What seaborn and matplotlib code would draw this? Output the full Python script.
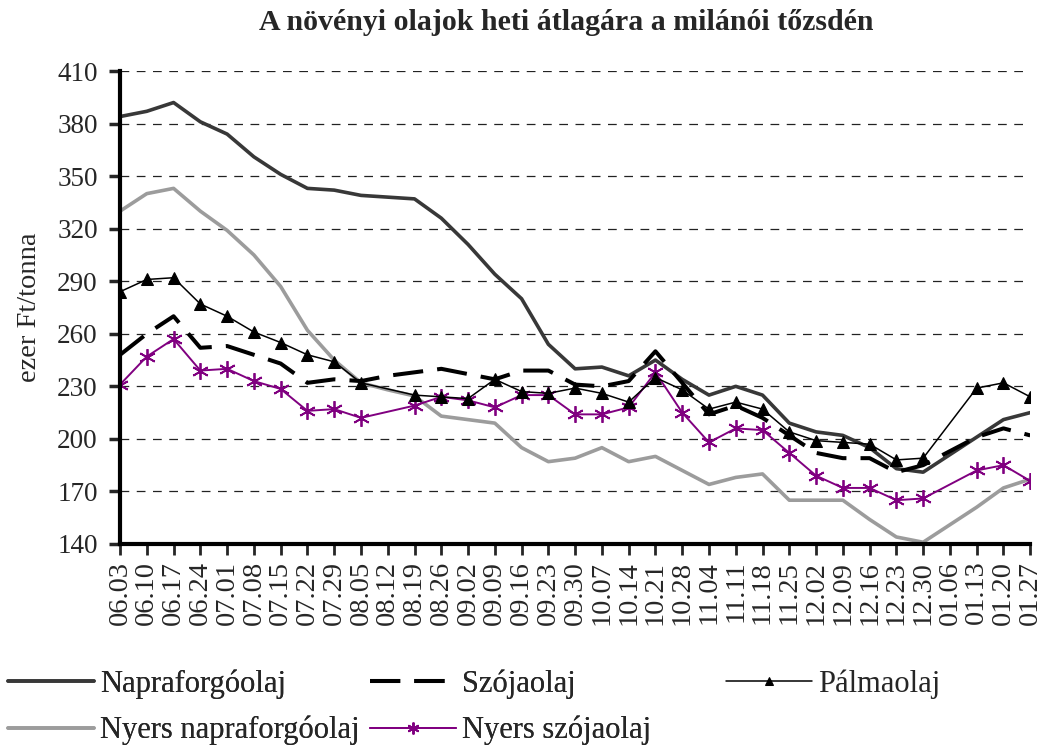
import numpy as np
import pandas as pd
import matplotlib.pyplot as plt
import seaborn as sns

nan = np.nan

dates = ["06.03", "06.10", "06.17", "06.24", "07.01", "07.08", "07.15", "07.22",
         "07.29", "08.05", "08.12", "08.19", "08.26", "09.02", "09.09", "09.16",
         "09.23", "09.30", "10.07", "10.14", "10.21", "10.28", "11.04", "11.11",
         "11.18", "11.25", "12.02", "12.09", "12.16", "12.23", "12.30", "01.06",
         "01.13", "01.20", "01.27"]

napraforgo = [384, 387, 392, 381, 374, 361, 351, 343, 342, 339, 338, 337, 326, 311,
              294, 280, 254, 240, 241, 236, 245, 234, 225, 230, 225, 209, 204, 202,
              195, 183, 181, nan, 201, 211, 215]
nyers_napraforgo = [330, 340, 343, 330, 319, 305, 287, 262, 245, 232, 228, 224.5, 213,
                    211, 209, 195, 187, 189, 195, 187, 190, 182, 174, 178, 180, 165,
                    165, 165, 154, 144, 141, nan, 161, 172, 177]
palma = [284, 291, 292, 277, 270, 261, 255, 248, 244, 232, nan, 225, 224, 223, 234,
         227, 226, 229, 226, 221, 235, 228, 217, 221, 217, 204, 199, 198, 197, 188,
         189, nan, 229, 232, 224]
szoja = [248, 260, 270, 252, 253, 248, 243, 232, 234, 233, 236, 238, 240, 237, 234,
         239, 239, 231, 230, 233, 250, 232, 214, 219, 212, 202, 192, 189, 189, 181,
         185, nan, 201, 206, 202]
nyers_szoja = [231, 247, 257, 239, 240, 233, 228.5, 216, 217, 212, nan, 219, 224, 222,
               218, 225, 225, 214, 214, 218, 238, 215, 198, 206, 205, 192, 179, 172,
               172, 165, 166, nan, 182, 185, 176]

series = {
    "Napraforgóolaj": napraforgo,
    "Nyers napraforgóolaj": nyers_napraforgo,
    "Szójaolaj": szoja,
    "Nyers szójaolaj": nyers_szoja,
    "Pálmaolaj": palma,
}

styles = {
    "Napraforgóolaj": dict(color="#383838", lw=2.6),
    "Nyers napraforgóolaj": dict(color="#9c9c9c", lw=2.6),
    "Szójaolaj": dict(color="black", lw=2.9, dashes=(7.5, 3.5)),
    "Nyers szójaolaj": dict(color="#800080", lw=1.4, marker=(6, 2, 0), ms=12, mew=1.3),
    "Pálmaolaj": dict(color="black", lw=1.1, marker="^", ms=8),
}

df = pd.DataFrame({"pos": np.arange(len(dates)), **series})
long_df = df.melt(id_vars="pos", var_name="Olaj", value_name="Ár").dropna()

sns.set_theme(style="white")
plt.rcParams["font.family"] = ["Liberation Serif", "DejaVu Serif"]

fig = plt.figure(figsize=(10.42, 7.49), dpi=100)
ax = fig.add_axes([0.1152, 0.2737, 0.8735, 0.6315])

for name in series:
    st = styles[name]
    sub = long_df[long_df["Olaj"] == name]
    kw = dict(color=st["color"], linewidth=st["lw"], label=name)
    if "dashes" in st:
        kw["dashes"] = st["dashes"]
    if "marker" in st:
        kw.update(marker=st["marker"], markersize=st["ms"],
                  markeredgecolor=st["color"], markerfacecolor=st["color"])
        if "mew" in st:
            kw["markeredgewidth"] = st["mew"]
    sns.lineplot(data=sub, x="pos", y="Ár", ax=ax, sort=False, **kw)

ax.set_xlim(0, len(dates) - 1)
ax.set_ylim(140, 410)
ax.set_yticks(np.arange(140, 411, 30))
ax.set_xticks(np.arange(len(dates)))
ax.set_xticklabels(dates, rotation=90, fontsize=20.5)
ax.tick_params(axis="y", labelsize=19.5, length=8, width=2.5, pad=8, left=True)
ax.tick_params(axis="x", length=8, width=2, pad=4, bottom=True)

for y in np.arange(170, 411, 30):
    ax.axhline(y, color="#222222", lw=0.9, ls=(0, (7, 6)), zorder=0)

for s in ["top", "right"]:
    ax.spines[s].set_visible(False)
for s in ["left", "bottom"]:
    ax.spines[s].set_linewidth(3)
    ax.spines[s].set_color("black")

ax.set_xlabel("")
ax.set_ylabel("ezer Ft/tonna", fontsize=20.5, labelpad=11)
if ax.get_legend():
    ax.get_legend().remove()

fig.text(0.543, 1 - 30 / 749, "A növényi olajok heti átlagára a milánói tőzsdén",
         ha="center", va="baseline", fontsize=21.5, fontweight="bold")

handles, labels = ax.get_legend_handles_labels()
hmap = dict(zip(labels, handles))
left_names = ["Napraforgóolaj", "Nyers napraforgóolaj", "Szójaolaj", "Nyers szójaolaj"]
leg_kw = dict(loc="upper left", frameon=False, fontsize=22, handlelength=2.8,
              handletextpad=0.2, labelspacing=0.55, borderpad=0, borderaxespad=0,
              markerscale=0.7)
leg1 = fig.legend([hmap[n] for n in left_names], left_names,
                  bbox_to_anchor=(0.008, 0.106), ncol=2, columnspacing=0.35, **leg_kw)
fig.legend([hmap["Pálmaolaj"]], ["Pálmaolaj"], bbox_to_anchor=(0.697, 0.106), **leg_kw)
fig.add_artist(leg1)

fig.savefig("out.png", dpi=100)
